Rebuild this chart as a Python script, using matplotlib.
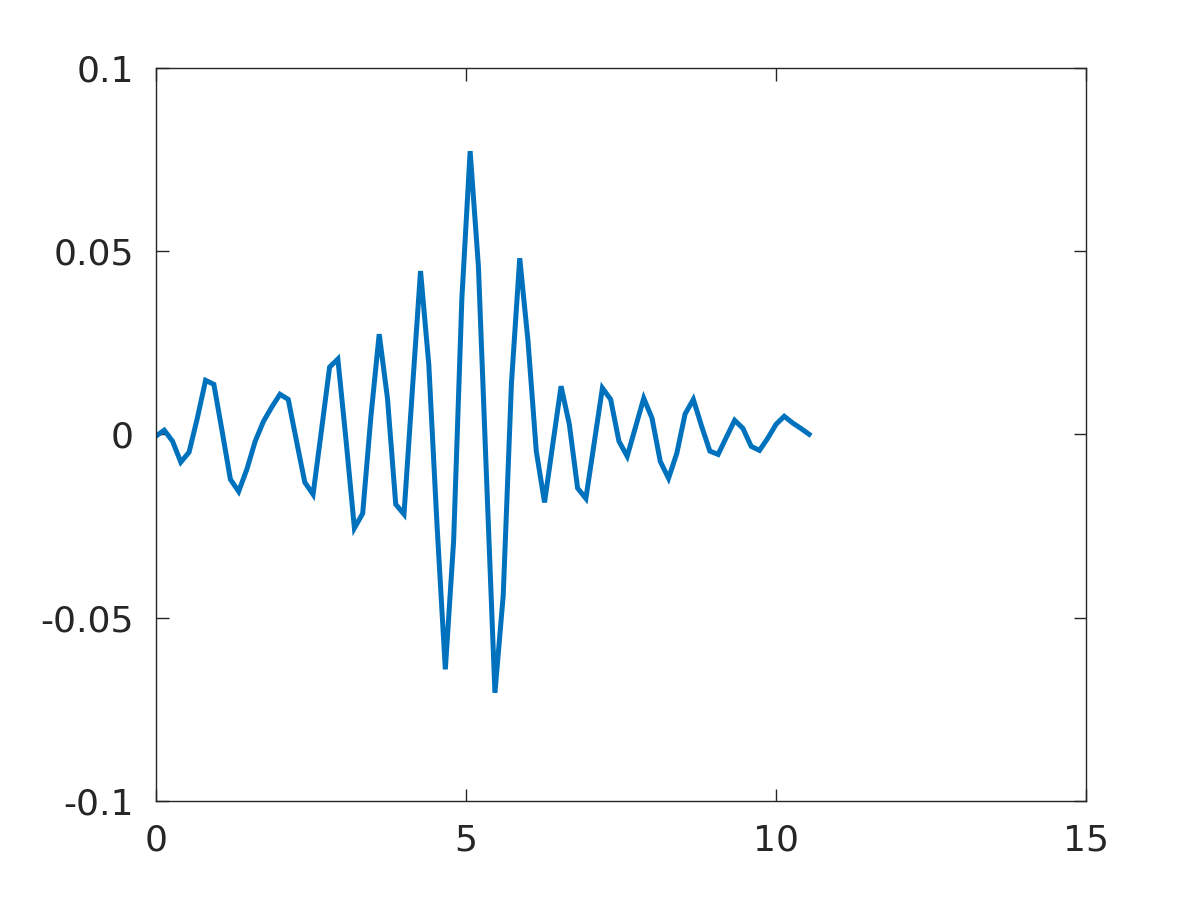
import numpy as np
import matplotlib
matplotlib.use("Agg")
import matplotlib.pyplot as plt

# sample spacing of the signal (time axis)
dt = 2.0 / 15.0

# signal values
y = [
    -0.0005, 0.0011, -0.0019, -0.0076, -0.0049, 0.0044, 0.0147, 0.0136, 0.0008, -0.0123,
    -0.0156, -0.0095, -0.0019, 0.0035, 0.0074, 0.0109, 0.0095, -0.0019, -0.0131, -0.0164,
    0.0008, 0.0183, 0.0205, -0.0019, -0.0256, -0.0216, 0.0049, 0.0273, 0.0098, -0.0191,
    -0.0218, 0.0117, 0.0445, 0.0190, -0.0250, -0.0641, -0.0292, 0.0370, 0.0772, 0.0458,
    -0.0128, -0.0705, -0.0440, 0.0140, 0.0480, 0.0254, -0.0046, -0.0186, -0.0027, 0.0131,
    0.0027, -0.0147, -0.0175, -0.0025, 0.0126, 0.0095, -0.0019, -0.0060, 0.0019, 0.0098,
    0.0044, -0.0074, -0.0120, -0.0052, 0.0055, 0.0095, 0.0022, -0.0046, -0.0055, -0.0008,
    0.0038, 0.0016, -0.0033, -0.0044, -0.0011, 0.0027, 0.0049, 0.0031, 0.0016, 0.0000,
]
t = np.arange(len(y)) * dt

xticks = [0, 5, 10, 15]
yticks = [-0.1, -0.05, 0, 0.05, 0.1]
yticklabels = ["-0.1", "-0.05", "0", "0.05", "0.1"]

dark = "#262626"
fig = plt.figure(figsize=(12, 9), dpi=100)
ax = fig.add_axes([0.13, 0.11, 0.775, 0.815])
ax.plot(t, y, color="#0072BD", linewidth=3.6, solid_joinstyle="miter")
ax.set_xlim(0, 15)
ax.set_ylim(-0.1, 0.1)
ax.set_xticks(xticks)
ax.set_xticklabels([str(v) for v in xticks])
ax.set_yticks(yticks)
ax.set_yticklabels(yticklabels)
for s in ax.spines.values():
    s.set_color(dark)
    s.set_linewidth(1.0)
ax.tick_params(direction="in", length=9, width=1.0, colors=dark,
               labelsize=26, top=True, right=True)
ax.tick_params(axis="y", pad=16)
ax.tick_params(axis="x", pad=16)
for lab in ax.get_xticklabels() + ax.get_yticklabels():
    lab.set_color(dark)
fig.savefig("out.png", dpi=100)
